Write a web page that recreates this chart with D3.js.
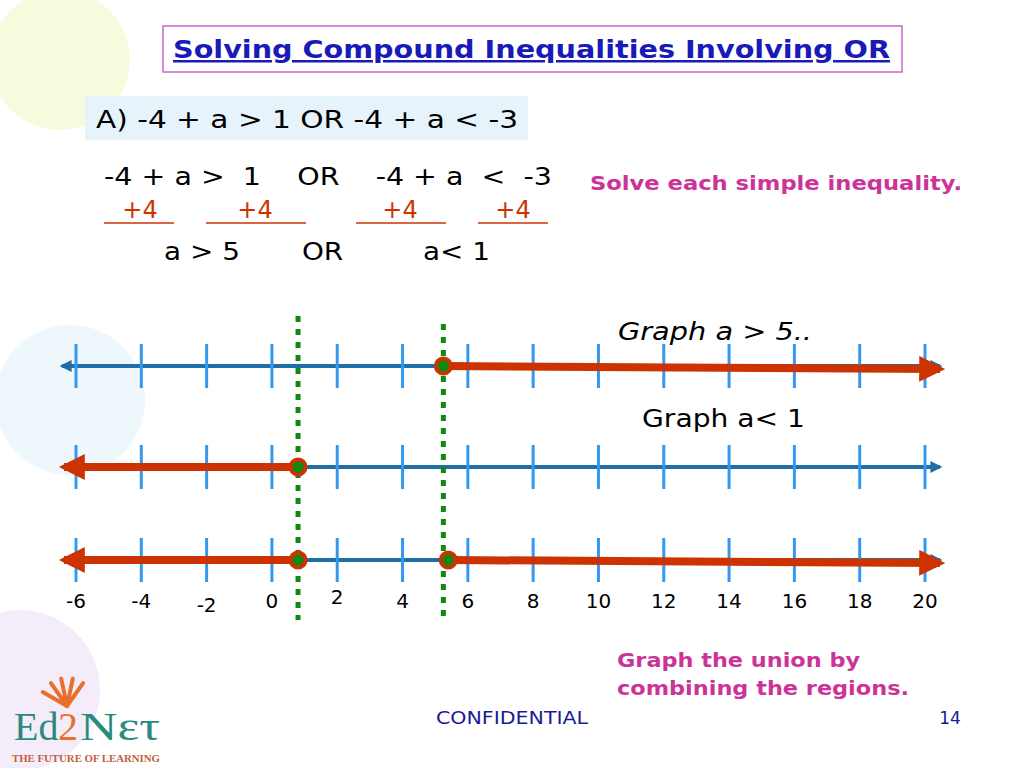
<!DOCTYPE html>
<html><head><meta charset="utf-8">
<script src="https://cdn.jsdelivr.net/npm/d3@7"></script>
<style>body{margin:0;background:#fff}svg{display:block;font-family:"DejaVu Sans",Verdana,sans-serif}</style>
</head><body><svg id="c" width="1024" height="768"></svg>
<script>
const tickValues = [-6,-4,-2,0,2,4,6,8,10,12,14,16,18,20];
const tickLabels = ["-6","-4","-2","0","2","4","6","8","10","12","14","16","18","20"];
const lowerBound = 0.8;   // a < 1 endpoint as drawn
const upperBound = 5.25;  // a > 5 endpoint as drawn
const rows = [
  {name:"Graph a > 5..", left:false, right:true},
  {name:"Graph a< 1", left:true, right:false},
  {name:"union", left:true, right:true}
];
const svg = d3.select("#c");
const x = d3.scaleLinear().domain([-6,20]).range([76,925]);
const rowY = [366,467,560];

const bg = svg.append("g").attr("opacity",0.35);
bg.append("circle").attr("cx",60).attr("cy",60).attr("r",70).attr("fill","#e8f4a0");
bg.append("circle").attr("cx",70).attr("cy",400).attr("r",75).attr("fill","#cfe9f7");
bg.append("circle").attr("cx",20).attr("cy",690).attr("r",80).attr("fill","#e3c9ef");

function txt(xp,y,s,t,len,o={}){
  const e=svg.append("text").attr("x",xp).attr("y",y).attr("font-size",s).attr("xml:space","preserve").text(t);
  if(len) e.attr("textLength",len).attr("lengthAdjust","spacingAndGlyphs");
  Object.entries(o).forEach(([k,v])=>e.attr(k,v));
  return e;
}

svg.append("rect").attr("x",163).attr("y",26).attr("width",739).attr("height",46).attr("fill","#fff").attr("stroke","#cc66cc").attr("stroke-width",1.5);
txt(173,58,25,"Solving Compound Inequalities Involving OR",717,{"font-weight":"bold",fill:"#1a1ab8","text-decoration":"underline"});

svg.append("rect").attr("x",85).attr("y",96).attr("width",443).attr("height",44).attr("fill","#e6f3fb");
txt(96,128,24,"A) -4 + a > 1 OR -4 + a < -3",422);

txt(104,185,24,"-4 + a >  1    OR    -4 + a  <  -3",448);
[[140,"+4"],[255,"+4"],[400,"+4"],[513,"+4"]].forEach(([cx,t])=>{
  txt(cx,218,24,t,null,{"text-anchor":"middle",fill:"#cc3300"});
});
[[104,174],[206,306],[356,446],[478,548]].forEach(([a,b])=>svg.append("line").attr("x1",a).attr("x2",b).attr("y1",223).attr("y2",223).attr("stroke","#cc3300").attr("stroke-width",1.5));
txt(164,260,24,"a > 5       OR         a< 1",326);
txt(590,190,19,"Solve each simple inequality.",372,{"font-weight":"bold",fill:"#cc3399"});
txt(618,340,25,"Graph a > 5..",194,{"font-style":"italic"});
txt(642,427,25,"Graph a< 1",163);
txt(617,667,19,"Graph the union by",243,{"font-weight":"bold",fill:"#cc3399"});
txt(617,695,19,"combining the regions.",292,{"font-weight":"bold",fill:"#cc3399"});
txt(436,724,17,"CONFIDENTIAL",152,{fill:"#1a1a99"});
txt(950,724,17,"14",null,{"text-anchor":"middle",fill:"#1a1a99"});

const defs = svg.append("defs");
function marker(id,col,w,h){
  defs.append("marker").attr("id",id).attr("viewBox","0 0 10 10").attr("refX",8).attr("refY",5).attr("markerWidth",w).attr("markerHeight",h).attr("orient","auto-start-reverse").attr("markerUnits","userSpaceOnUse")
   .append("path").attr("d","M0,0L10,5L0,10z").attr("fill",col);
}
marker("ab","#1f6fa6",14,12);
marker("ar","#cc3300",26,26);

rows.forEach((r,i)=>{
  const y=rowY[i], g=svg.append("g");
  g.append("line").attr("x1",62).attr("x2",940).attr("y1",y).attr("y2",y).attr("stroke","#1f6fa6").attr("stroke-width",4)
   .attr("marker-start","url(#ab)").attr("marker-end","url(#ab)");
  g.selectAll(".t").data(tickValues).join("line").attr("x1",d=>x(d)).attr("x2",d=>x(d)).attr("y1",y-22).attr("y2",y+22).attr("stroke","#3399ee").attr("stroke-width",3);
  if(r.left){
    g.append("line").attr("x1",x(lowerBound)).attr("x2",64).attr("y1",y).attr("y2",y).attr("stroke","#cc3300").attr("stroke-width",8).attr("marker-end","url(#ar)");
  }
  if(r.right){
    const s = i===2?upperBound+0.15:upperBound;
    g.append("line").attr("x1",x(s)).attr("x2",940).attr("y1",y).attr("y2",y+3).attr("stroke","#cc3300").attr("stroke-width",8).attr("marker-end","url(#ar)");
  }
});
svg.append("line").attr("x1",x(lowerBound)).attr("x2",x(lowerBound)).attr("y1",316).attr("y2",620).attr("stroke","#118811").attr("stroke-width",5).attr("stroke-dasharray","6,7");
svg.append("line").attr("x1",x(upperBound)).attr("x2",x(upperBound)).attr("y1",324).attr("y2",622).attr("stroke","#118811").attr("stroke-width",5).attr("stroke-dasharray","6,7");
const pts=[[upperBound,0],[lowerBound,1],[lowerBound,2],[upperBound+0.15,2]];
svg.selectAll(".p").data(pts).join("circle").attr("cx",d=>x(d[0])).attr("cy",d=>rowY[d[1]]).attr("r",7.5).attr("fill","#118811").attr("stroke","#cc3300").attr("stroke-width",4);
svg.selectAll(".l").data(tickValues).join("text").attr("x",d=>x(d)).attr("y",d=>d===2?604:(d===-2?612:608)).attr("text-anchor","middle").attr("font-size",20).text((d,i)=>tickLabels[i]);

const lg=svg.append("g");
[-60,-35,-12,12,35].forEach(a=>{const r=a*Math.PI/180;lg.append("line").attr("x1",67).attr("y1",706).attr("x2",67+Math.sin(r)*28).attr("y2",706-Math.cos(r)*28).attr("stroke","#e8702a").attr("stroke-width",4).attr("stroke-linecap","round");});
lg.append("text").attr("x",14).attr("y",740).attr("font-family","'Liberation Serif','DejaVu Serif',serif").attr("font-size",40).attr("fill","#2a8a80").text("Ed");
lg.append("text").attr("x",58).attr("y",740).attr("font-family","'Liberation Serif',serif").attr("font-size",40).attr("fill","#e8702a").text("2");
lg.append("text").attr("x",80).attr("y",740).attr("font-family","'Liberation Serif',serif").attr("font-size",40).attr("fill","#2a8a80").attr("textLength",80).attr("lengthAdjust","spacingAndGlyphs").text("Nετ");
lg.append("text").attr("x",12).attr("y",762).attr("font-family","'Liberation Serif',serif").attr("font-size",10).attr("font-weight","bold").attr("fill","#c0603a").attr("textLength",148).attr("lengthAdjust","spacingAndGlyphs").text("THE FUTURE OF LEARNING");
</script></body></html>
